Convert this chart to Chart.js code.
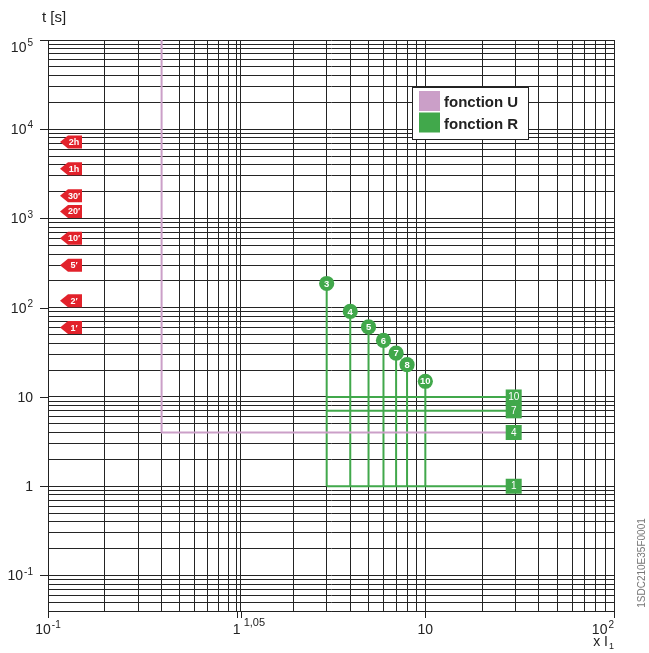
<!DOCTYPE html>
<html>
<head>
<meta charset="utf-8">
<script src="https://cdn.jsdelivr.net/npm/chart.js@4"></script>
<style>
html,body{margin:0;padding:0;background:#fff;}
canvas{display:block;}
</style>
</head>
<body>
<canvas id="c" width="649" height="653"></canvas>
<script>
// ---------- data ----------
const xMin = 0.1, xMax = 100;
const yMin = 0.04, yMax = 1e5;

const xTickValues = [0.1, 1, 10, 100];
const xTickBase = ['10', '1', '10', '10'];
const xTickExp = ['-1', '', '', '2'];
const xExtraValue = 1.05;
const xExtraLabel = '1,05';

const yTickValues = [1e5, 1e4, 1e3, 1e2, 10, 1, 0.1];
const yTickBase = ['10', '10', '10', '10', '10', '1', '10'];
const yTickExp = ['5', '4', '3', '2', '', '', '-1'];

const xTitleBase = 'x I';
const xTitleSub = '1';
const yTitle = 't [s]';
const docCode = '1SDC210E35F0001';

const legendLabels = ['fonction U', 'fonction R'];
const colorU = '#cb9fc8';
const colorR = '#41a84b';
const colorTag = '#e2222b';

// function U : current threshold and time
const uCurrent = 0.4;
const uTime = 4;

// function R : multiples and trip times (circle markers)
const rMultiples = [3, 4, 5, 6, 7, 8, 10];
const rTimes = [187, 91, 61, 43, 31, 23, 15];
const rLabels = ['3', '4', '5', '6', '7', '8', '10'];
// function R : time levels (horizontal lines)
const rLevels = [10, 7, 1];
const rStartCurrent = 3;
const rEndCurrent = 29.4;

// square labels at right
const squareTimes = [10, 7, 4, 1];
const squareLabels = ['10', '7', '4', '1'];

// red time tags
const tagTimes = [7200, 3600, 1800, 1200, 600, 300, 120, 60];
const tagLabels = ['2h', '1h', '30\u2032', '20\u2032', '10\u2032', '5\u2032', '2\u2032', '1\u2032'];

// ---------- grid tick builders ----------
function logGrid(min, max, extra) {
  const out = [];
  for (let e = -3; e <= 6; e++) {
    for (let k = 1; k <= 9; k++) {
      const v = +(k * Math.pow(10, e)).toPrecision(6);
      if (v >= min * 0.9999 && v <= max * 1.0001) out.push(v);
    }
  }
  (extra || []).forEach(v => out.push(v));
  out.sort((a, b) => a - b);
  return out;
}
const xGridValues = logGrid(xMin, xMax, [xExtraValue]);
const yGridValues = logGrid(yMin, yMax, []);

// ---------- datasets ----------
const datasets = [];
datasets.push({
  label: legendLabels[0],
  data: [{x: uCurrent, y: yMax}, {x: uCurrent, y: uTime}, {x: rEndCurrent, y: uTime}],
  borderColor: colorU, borderWidth: 2, pointRadius: 0, showLine: true, fill: false
});
rMultiples.forEach((m, i) => {
  datasets.push({
    label: legendLabels[1],
    data: [{x: m, y: rTimes[i]}, {x: m, y: 1}],
    borderColor: colorR, borderWidth: 2, pointRadius: 0, showLine: true, fill: false
  });
});
rLevels.forEach(t => {
  datasets.push({
    label: legendLabels[1],
    data: [{x: rStartCurrent, y: t}, {x: rEndCurrent, y: t}],
    borderColor: colorR, borderWidth: 2, pointRadius: 0, showLine: true, fill: false
  });
});

const FONT = '"Liberation Sans", Arial, Helvetica, sans-serif';

function drawSupLabel(ctx, base, exp, x, y, align, size) {
  ctx.font = size + 'px ' + FONT;
  const wb = ctx.measureText(base).width;
  const supSize = Math.round(size * 0.68);
  ctx.font = supSize + 'px ' + FONT;
  const we = exp ? ctx.measureText(exp).width + 1 : 0;
  const total = wb + we;
  let left = x;
  if (align === 'right') left = x - total;
  else if (align === 'center') left = x - total / 2;
  ctx.textAlign = 'left';
  ctx.textBaseline = 'alphabetic';
  ctx.font = size + 'px ' + FONT;
  ctx.fillText(base, left, y);
  if (exp) {
    ctx.font = supSize + 'px ' + FONT;
    ctx.fillText(exp, left + wb + 1, y - size * 0.42);
  }
}

const overlay = {
  id: 'overlay',
  afterDatasetsDraw(chart) {
    const ctx = chart.ctx;
    const xs = chart.scales.x, ys = chart.scales.y;
    const area = chart.chartArea;
    ctx.save();
    // circles
    rMultiples.forEach((m, i) => {
      const px = xs.getPixelForValue(m), py = ys.getPixelForValue(rTimes[i]);
      ctx.beginPath();
      ctx.arc(px, py, 7.6, 0, Math.PI * 2);
      ctx.fillStyle = colorR;
      ctx.fill();
      ctx.fillStyle = '#fff';
      ctx.font = 'bold 9.5px ' + FONT;
      ctx.textAlign = 'center';
      ctx.textBaseline = 'middle';
      ctx.fillText(rLabels[i], px, py + 0.5);
    });
    // squares
    squareTimes.forEach((t, i) => {
      const px = xs.getPixelForValue(rEndCurrent), py = ys.getPixelForValue(t);
      ctx.fillStyle = colorR;
      ctx.fillRect(px - 8, py - 7.5, 16, 15);
      ctx.fillStyle = '#fff';
      ctx.font = '10px ' + FONT;
      ctx.textAlign = 'center';
      ctx.textBaseline = 'middle';
      ctx.fillText(squareLabels[i], px, py + 0.5);
    });
    // red tags
    tagTimes.forEach((t, i) => {
      const py = ys.getPixelForValue(t);
      const l = area.left + 12;
      ctx.beginPath();
      ctx.moveTo(l, py);
      ctx.lineTo(l + 8, py - 6.5);
      ctx.lineTo(l + 22, py - 6.5);
      ctx.lineTo(l + 22, py + 6.5);
      ctx.lineTo(l + 8, py + 6.5);
      ctx.closePath();
      ctx.fillStyle = colorTag;
      ctx.fill();
      ctx.fillStyle = '#fff';
      ctx.font = 'bold 9px ' + FONT;
      ctx.textAlign = 'center';
      ctx.textBaseline = 'middle';
      ctx.fillText(tagLabels[i], l + 14, py + 0.5);
    });
    ctx.restore();
  },
  afterDraw(chart) {
    const ctx = chart.ctx;
    const xs = chart.scales.x, ys = chart.scales.y;
    const area = chart.chartArea;
    ctx.save();
    ctx.fillStyle = '#222';
    ctx.strokeStyle = '#222';
    ctx.lineWidth = 1;
    // outer tick marks
    yTickValues.forEach(v => {
      const py = Math.round(ys.getPixelForValue(v)) + 0.5;
      ctx.beginPath(); ctx.moveTo(area.left - 8, py); ctx.lineTo(area.left, py); ctx.stroke();
    });
    xTickValues.concat([xExtraValue]).forEach(v => {
      const px = Math.round(xs.getPixelForValue(v)) + 0.5;
      ctx.beginPath(); ctx.moveTo(px, area.bottom); ctx.lineTo(px, area.bottom + 7); ctx.stroke();
    });
    // y labels
    yTickValues.forEach((v, i) => {
      const py = ys.getPixelForValue(v);
      let base = py + 5;
      if (base - 10 < area.top + 2) base = area.top + 12;
      drawSupLabel(ctx, yTickBase[i], yTickExp[i], area.left - 15, base, 'right', 14);
    });
    // x labels
    xTickValues.forEach((v, i) => {
      const px = xs.getPixelForValue(v);
      const align = (i === xTickValues.length - 1) ? 'right' : 'center';
      drawSupLabel(ctx, xTickBase[i], xTickExp[i], align === 'right' ? area.right : px, area.bottom + 23, align, 14);
    });
    ctx.font = '11px ' + FONT;
    ctx.textAlign = 'left';
    ctx.fillText(xExtraLabel, xs.getPixelForValue(xExtraValue) + 3, area.bottom + 15);
    // axis titles
    ctx.font = '15px ' + FONT;
    ctx.textAlign = 'left';
    ctx.fillText(yTitle, area.left - 6, 22);
    ctx.font = '14px ' + FONT;
    const wSub = 6;
    const wT = ctx.measureText(xTitleBase).width;
    ctx.fillText(xTitleBase, area.right - wSub - wT, area.bottom + 35);
    ctx.font = '9px ' + FONT;
    ctx.fillText(xTitleSub, area.right - wSub + 1, area.bottom + 38);
    // doc code
    ctx.save();
    ctx.translate(642, 563);
    ctx.rotate(-Math.PI / 2);
    ctx.font = '10px ' + FONT;
    ctx.fillStyle = '#777';
    ctx.textAlign = 'center';
    ctx.textBaseline = 'middle';
    ctx.fillText(docCode, 0, 0);
    ctx.restore();
    // legend
    const by = area.top + 47, bw = 116, bh = 52, bx = 412;
    ctx.fillStyle = '#fff';
    ctx.fillRect(bx, by, bw, bh);
    ctx.strokeStyle = '#222';
    ctx.strokeRect(bx + 0.5, by + 0.5, bw, bh);
    const colors = [colorU, colorR];
    legendLabels.forEach((lab, i) => {
      const ry = by + 4 + i * 21.5;
      ctx.fillStyle = colors[i];
      ctx.fillRect(bx + 7, ry, 21, 20);
      ctx.fillStyle = '#222';
      ctx.font = 'bold 15px ' + FONT;
      ctx.textAlign = 'left';
      ctx.textBaseline = 'alphabetic';
      ctx.fillText(lab, bx + 32, ry + 16);
    });
    ctx.restore();
  }
};

new Chart(document.getElementById('c'), {
  type: 'scatter',
  data: {datasets},
  options: {
    responsive: false,
    animation: false,
    events: [],
    layout: {padding: {top: 40, right: 35, left: 0, bottom: 0}},
    plugins: {legend: {display: false}, tooltip: {enabled: false}},
    scales: {
      x: {
        type: 'logarithmic', min: xMin, max: xMax,
        afterBuildTicks: s => { s.ticks = xGridValues.map(v => ({value: v})); },
        afterFit: s => { s.height = 42; },
        ticks: {display: false},
        grid: {color: '#242424', lineWidth: 1, drawTicks: false},
        border: {display: true, color: '#222', width: 1}
      },
      y: {
        type: 'logarithmic', min: yMin, max: yMax,
        afterBuildTicks: s => { s.ticks = yGridValues.map(v => ({value: v})); },
        afterFit: s => { s.width = 48; },
        ticks: {display: false},
        grid: {color: '#242424', lineWidth: 1, drawTicks: false},
        border: {display: true, color: '#222', width: 1}
      }
    }
  },
  plugins: [overlay]
});
</script>
</body>
</html>
